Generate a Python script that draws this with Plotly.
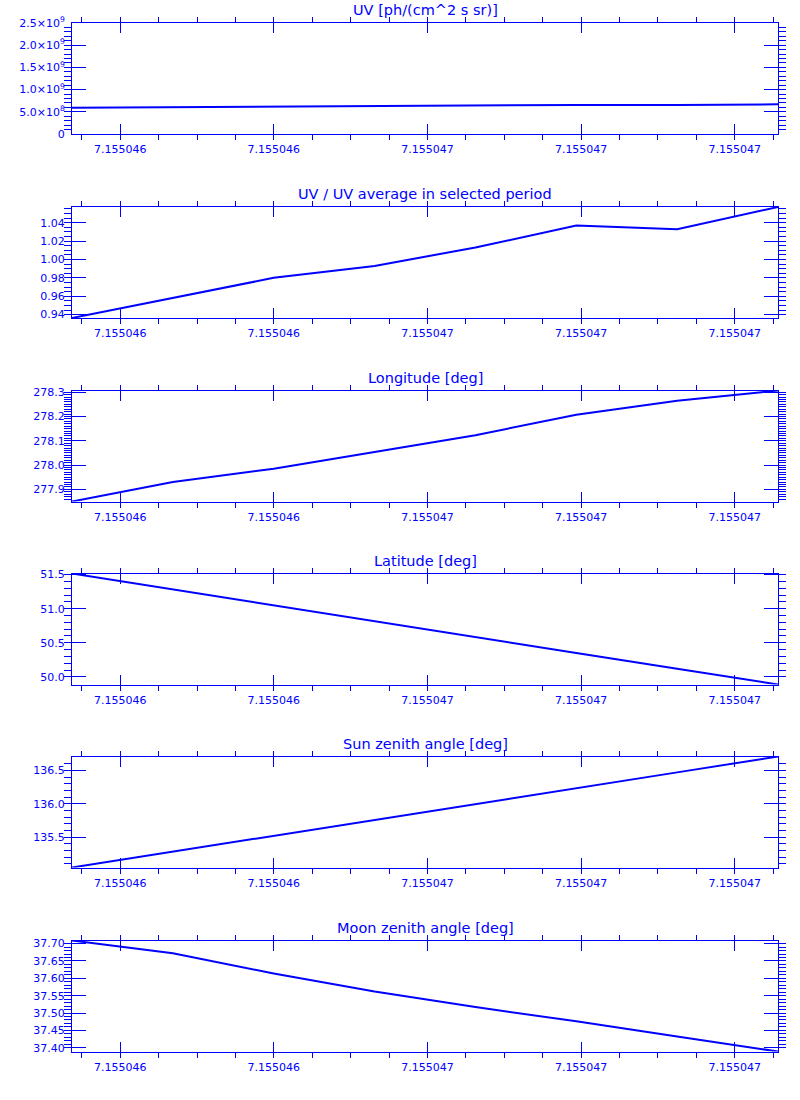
import numpy as np
import plotly.graph_objects as go

# ---- data ----
time_x = [7.1550461372, 7.1550462685, 7.1550463998, 7.1550465311,
          7.1550466624, 7.1550467937, 7.1550469250, 7.1550470563]
uv_ratio = [0.9363, 0.958, 0.980, 0.993, 1.013, 1.037, 1.033, 1.0571]
uv_average = 6.32e8
uv = [r * uv_average for r in uv_ratio]
longitude = [277.850, 277.930, 277.985, 278.054, 278.123, 278.207, 278.265, 278.307]
latitude = [51.515, 51.28, 51.045, 50.82, 50.58, 50.35, 50.12, 49.889]
sun_zenith = [135.044, 135.28, 135.52, 135.755, 135.99, 136.235, 136.47, 136.708]
moon_zenith = [37.709, 37.672, 37.614, 37.562, 37.517, 37.476, 37.432, 37.389]

titles = ["UV [ph/(cm^2 s sr)]", "UV / UV average in selected period",
          "Longitude [deg]", "Latitude [deg]", "Sun zenith angle [deg]",
          "Moon zenith angle [deg]"]

x_tickvals = [7.1550462, 7.1550464, 7.1550466, 7.1550468, 7.1550470]
x_ticktext = ["7.155046", "7.155046", "7.155047", "7.155047", "7.155047"]

uv_tickvals = [0, 5.0e8, 1.0e9, 1.5e9, 2.0e9, 2.5e9]
uv_ticktext = ["0", "5.0×10<sup>8</sup>", "1.0×10<sup>9</sup>", "1.5×10<sup>9</sup>",
               "2.0×10<sup>9</sup>", "2.5×10<sup>9</sup>"]

series = [uv, uv_ratio, longitude, latitude, sun_zenith, moon_zenith]
# (dtick major, dtick minor, tickformat)
y_ticks = [(5e8, 1e8, None), (0.02, 0.005, ".2f"), (0.1, 0.01, ".1f"),
           (0.5, 0.1, ".1f"), (0.5, 0.1, ".1f"), (0.05, 0.01, ".2f")]

# ---- layout geometry ----
W, H = 800, 1100
BLUE = "rgb(0,0,255)"
FONT = "DejaVu Sans"
left_px, right_px = 72, 778
tops_px = [23, 207, 390.5, 573.5, 756.5, 940.5]
panel_h = 111

x_minor = []
step = (x_tickvals[1] - x_tickvals[0]) / 4
for k in range(-1, 4 * len(x_tickvals) + 1):
    v = x_tickvals[0] + k * step
    if time_x[0] <= v <= time_x[-1]:
        x_minor.append(v)

fig = go.Figure()
layout = dict(width=W, height=H, margin=dict(l=0, r=0, t=0, b=0, pad=0),
              paper_bgcolor="white", plot_bgcolor="white", showlegend=False,
              font=dict(family=FONT, color=BLUE, size=11))
annotations = []
for i, (ys, title, yt) in enumerate(zip(series, titles, y_ticks)):
    n = "" if i == 0 else str(i + 1)
    top = tops_px[i]
    bot = top + panel_h
    ydom = [1 - bot / H, 1 - top / H]
    xdom = [left_px / W, right_px / W]
    fig.add_trace(go.Scatter(x=time_x, y=ys, mode="lines",
                             line=dict(color=BLUE, width=2),
                             xaxis="x" + n, yaxis="y" + n))
    layout["xaxis" + n] = dict(
        domain=xdom, anchor="y" + n, range=[time_x[0], time_x[-1]],
        automargin=False, ticklabelstandoff=5,
        showgrid=False, zeroline=False, showline=True, linecolor=BLUE, linewidth=1,
        mirror="allticks", ticks="inside", ticklen=10, tickwidth=1, tickcolor=BLUE,
        tickmode="array", tickvals=x_tickvals, ticktext=x_ticktext,
        tickfont=dict(family=FONT, color=BLUE, size=11),
        minor=dict(tickmode="array", tickvals=x_minor, ticklen=5, tickcolor=BLUE,
                   tickwidth=1, showgrid=False))
    if i == 0:
        yrange = [0, 2.5e9]
        ytick = dict(tickmode="array", tickvals=uv_tickvals, ticktext=uv_ticktext)
    else:
        yrange = [min(ys), max(ys)]
        ytick = dict(tickmode="linear", tick0=0, dtick=yt[0], tickformat=yt[2])
    layout["yaxis" + n] = dict(
        domain=ydom, anchor="x" + n, range=yrange,
        automargin=False, ticklabelstandoff=4,
        showgrid=False, zeroline=False, showline=True, linecolor=BLUE, linewidth=1,
        mirror="allticks", ticks="inside", ticklen=14, tickwidth=1, tickcolor=BLUE,
        tickfont=dict(family=FONT, color=BLUE, size=11),
        minor=dict(tickmode="linear", tick0=0, dtick=yt[1], ticklen=7,
                   tickcolor=BLUE, tickwidth=1, showgrid=False),
        **ytick)
    annotations.append(dict(text=title, xref="paper", yref="paper",
                            x=(xdom[0] + xdom[1]) / 2, y=ydom[1], xanchor="center",
                            yanchor="middle", yshift=13, showarrow=False,
                            font=dict(family=FONT, color=BLUE, size=14.5)))
layout["annotations"] = annotations
fig.update_layout(**layout)
fig.write_html("out.html", config={"displayModeBar": False},
               post_script="document.body.style.margin='0';document.body.style.padding='0';")
